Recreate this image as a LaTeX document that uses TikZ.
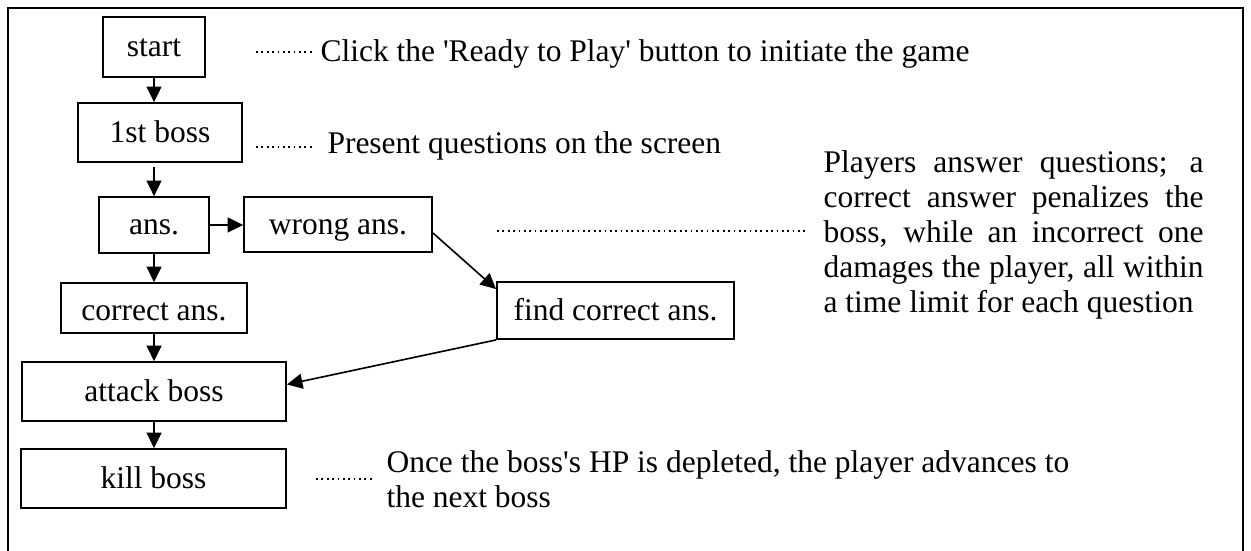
\documentclass[tikz,border=0pt]{standalone}
\usepackage{fontspec}
\setmainfont{Liberation Serif}[Ligatures=TeXOff]
\usetikzlibrary{arrows.meta}
\begin{document}
\begin{tikzpicture}[x=0.4pt,y=-0.4pt,
  every node/.style={font=\fontsize{12.6}{13.8}\selectfont},
  stepbox/.style={draw,line width=0.75pt,inner sep=0pt,text height=0.8em,text depth=0pt},
  flow/.style={line width=0.65pt,-{Triangle[length=6.2pt,width=6pt]}},
  leader/.style={line width=0.7pt,dash pattern=on 0.7pt off 1.45pt},
  note/.style={inner sep=0pt,anchor=base west}]
\useasboundingbox (0,0) rectangle (1251,551);
% outer frame (open at the bottom edge of the page)
\draw[line width=1.1pt] (8,570) -- (8,8) -- (1243,8) -- (1243,570);

% flow boxes
\node[stepbox,minimum width=40.8pt,minimum height=24pt]  (start)   at (154,47)    {start};
\node[stepbox,minimum width=65.6pt,minimum height=23.6pt] (boss1)  at (160,132.5) {1st boss};
\node[stepbox,minimum width=44pt,minimum height=22.4pt]  (ans)     at (154,225)   {ans.};
\node[stepbox,minimum width=75.2pt,minimum height=22pt]  (wrong)   at (338,224.5) {wrong ans.};
\node[stepbox,minimum width=74.4pt,minimum height=20pt,text height=1.0em] (correct) at (154,308) {correct ans.};
\node[stepbox,minimum width=94.8pt,minimum height=22.8pt] (find)   at (615.5,310.5) {find correct ans.};
\node[stepbox,minimum width=105.6pt,minimum height=23.6pt] (attack) at (154,391.5) {attack boss};
\node[stepbox,minimum width=106pt,minimum height=23.6pt] (kill)    at (153.5,478.5) {kill boss};

% connectors
\draw[flow] (start.south) -- (start.south |- boss1.north);
\draw[flow,shorten <=1.6pt] (ans.north |- boss1.south) -- (ans.north);
\draw[flow] (ans.east) -- (ans.east -| wrong.west);
\draw[flow] (ans.south) -- (ans.south |- correct.north);
\draw[flow] (correct.south) -- (correct.south |- attack.north);
\draw[flow] (attack.south) -- (attack.south |- kill.north);
\draw[flow] ([yshift=-3.4pt]wrong.east) -- ([yshift=-3.2pt]find.north west);
\draw[flow] (find.south west) -- ([yshift=2.8pt]attack.east);

% explanatory notes
\node[note] (n1) at (320,62)  {Click the 'Ready to Play' button to initiate the game};
\node[note] (n2) at (327,154) {Present questions on the screen};
\node[note] (p1) at (823,173) {\makebox[152pt][s]{Players answer questions; a}};
\node[note] (p2) at (823,208) {\makebox[152pt][s]{correct answer penalizes the}};
\node[note] (p3) at (823,243) {\makebox[152pt][s]{boss, while an incorrect one}};
\node[note] (p4) at (823,278) {\makebox[152pt][s]{damages the player, all within}};
\node[note] (p5) at (823,313) {a time limit for each question};
\node[note] (k1) at (386,472) {Once the boss's HP is depleted, the player advances to};
\node[note] (k2) at (386,507) {the next boss};

% dotted leaders
\draw[leader] (256,52)  -- (315,52);
\draw[leader] (256,147) -- (315,147);
\draw[leader] (497,231) -- (808,231);
\draw[leader] (316,479) -- (372,479);
\end{tikzpicture}
\end{document}
